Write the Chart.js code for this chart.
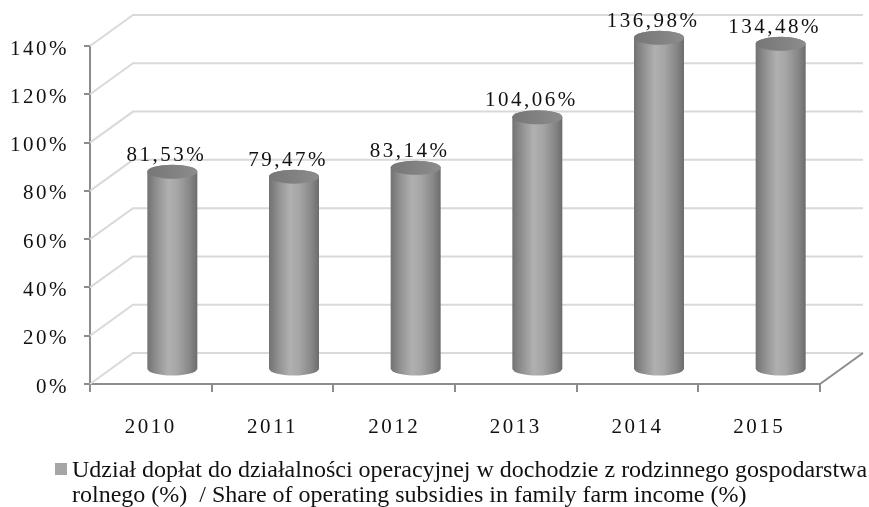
<!DOCTYPE html>
<html>
<head>
<meta charset="utf-8">
<script src="https://cdn.jsdelivr.net/npm/chart.js@4/dist/chart.umd.min.js"></script>
<style>
  body { margin: 0; background: #fff; }
  #wrap { position: relative; width: 869px; height: 507px; }
  .lg {
    position: absolute; left: 72px;
    font-family: 'Liberation Serif', serif; font-size: 24px; line-height: 25px; color: #111;
    white-space: pre;
  }
  #sw { position: absolute; left: 55px; top: 463px; width: 12px; height: 12px; background: #a6a6a6; }
</style>
</head>
<body>
<div id="wrap">
  <canvas id="myChart" width="869" height="507"></canvas>
  <div id="sw"></div>
  <div class="lg" id="lg1" style="top:457px"></div>
  <div class="lg" id="lg2" style="top:482px"></div>
</div>
<script>
const labels = ['2010', '2011', '2012', '2013', '2014', '2015'];
const values = [81.53, 79.47, 83.14, 104.06, 136.98, 134.48];
const seriesName = ['Udział dopłat do działalności operacyjnej w dochodzie z rodzinnego gospodarstwa',
                    'rolnego (%)  / Share of operating subsidies in family farm income (%)'];
const yTicks = [0, 20, 40, 60, 80, 100, 120, 140];

const DX = 43, DY = -31;   // depth of the 3D box
const FONT = "21px 'Liberation Serif'";

// legend, wrapped on two lines like the original
document.getElementById('lg1').textContent = seriesName[0];
document.getElementById('lg2').textContent = seriesName[1];

const box3d = {
  id: 'box3d',
  beforeDraw(chart) {
    chart.ctx.letterSpacing = '2.5px';
  },
  beforeDatasetsDraw(chart) {
    const ctx = chart.ctx, a = chart.chartArea, y = chart.scales.y;
    ctx.save();
    ctx.strokeStyle = '#d9d9d9';
    ctx.lineWidth = 2;
    yTicks.forEach(v => {
      const py = y.getPixelForValue(v);
      ctx.beginPath();
      ctx.moveTo(a.left, py);
      ctx.lineTo(a.left + DX, py + DY);
      ctx.lineTo(a.right + DX, py + DY);
      ctx.stroke();
    });
    // right edge of floor
    ctx.strokeStyle = '#8c8c8c';
    ctx.beginPath();
    ctx.moveTo(a.right, a.bottom);
    ctx.lineTo(a.right + DX, a.bottom + DY);
    ctx.stroke();
    ctx.restore();
  },
  afterDatasetsDraw(chart) {
    const ctx = chart.ctx, y = chart.scales.y;
    const meta = chart.getDatasetMeta(0);
    const base = y.getPixelForValue(0) + DY / 2;
    const rx = 25, ry = 7;
    ctx.save();
    meta.data.forEach((bar, i) => {
      const cx = bar.x + DX / 2;
      const top = bar.y + DY / 2;
      const g = ctx.createLinearGradient(cx - rx, 0, cx + rx, 0);
      g.addColorStop(0, '#727272');
      g.addColorStop(0.2, '#929292');
      g.addColorStop(0.42, '#b0b0b0');
      g.addColorStop(0.6, '#a6a6a6');
      g.addColorStop(0.85, '#878787');
      g.addColorStop(1, '#6c6c6c');
      ctx.beginPath();
      ctx.moveTo(cx - rx, top);
      ctx.lineTo(cx - rx, base);
      ctx.ellipse(cx, base, rx, ry, 0, Math.PI, 0, true);
      ctx.lineTo(cx + rx, top);
      ctx.ellipse(cx, top, rx, ry, 0, 0, Math.PI, true);
      ctx.closePath();
      ctx.fillStyle = g;
      ctx.fill();
      const gt = ctx.createLinearGradient(cx - rx, 0, cx + rx, 0);
      gt.addColorStop(0, '#767676');
      gt.addColorStop(1, '#8c8c8c');
      ctx.beginPath();
      ctx.ellipse(cx, top, rx, ry, 0, 0, Math.PI * 2);
      ctx.fillStyle = gt;
      ctx.fill();
      // value label
      ctx.font = FONT;
      ctx.fillStyle = '#111';
      ctx.textAlign = 'center';
      ctx.textBaseline = 'alphabetic';
      ctx.fillText(values[i].toFixed(2).replace('.', ',') + '%', cx - 6, top - ry - 4);
    });
    ctx.restore();
  }
};

const ctx = document.getElementById('myChart').getContext('2d');
new Chart(ctx, {
  type: 'bar',
  data: {
    labels: labels,
    datasets: [{
      label: seriesName.join(' '),
      data: values,
      backgroundColor: 'rgba(0,0,0,0)',
      borderWidth: 0
    }]
  },
  options: {
    responsive: false,
    animation: false,
    layout: { padding: { top: 46, right: 49, left: 0, bottom: 0 } },
    plugins: {
      legend: { display: false },
      tooltip: { enabled: false }
    },
    scales: {
      x: {
        afterFit: s => { s.height = 123; },
        grid: { drawOnChartArea: false, color: '#8c8c8c', lineWidth: 2, tickLength: 8, offset: true },
        border: { color: '#8c8c8c', width: 2 },
        ticks: { color: '#111', font: { family: 'Liberation Serif', size: 21 }, padding: 23 }
      },
      y: {
        min: 0,
        max: 140,
        afterFit: s => { s.width = 90; },
        grid: { drawOnChartArea: false, color: '#8c8c8c', lineWidth: 2, tickLength: 6 },
        border: { color: '#8c8c8c', width: 2 },
        ticks: {
          stepSize: 20,
          color: '#111',
          font: { family: 'Liberation Serif', size: 21 },
          padding: 15,
          labelOffset: 3,
          callback: v => v + '%'
        }
      }
    }
  },
  plugins: [box3d]
});
</script>
</body>
</html>
